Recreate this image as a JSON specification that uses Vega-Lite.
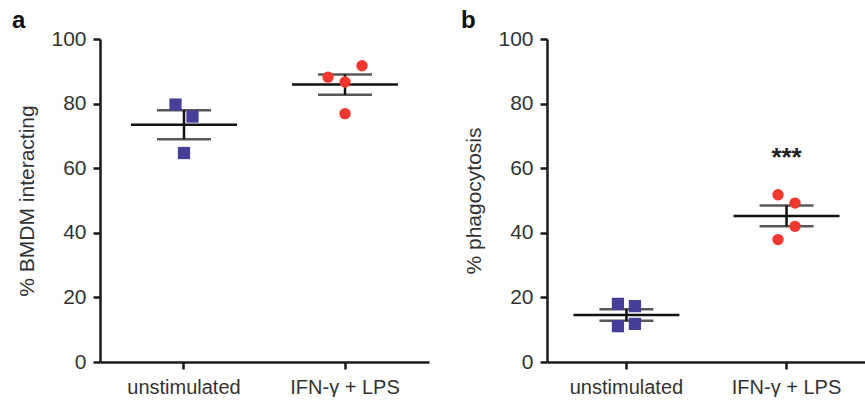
{
  "$schema": "https://vega.github.io/schema/vega-lite/v6.json",
  "background": "white",
  "padding": {"left": 12, "top": 9, "right": 0, "bottom": 0},
  "bounds": "flush",
  "spacing": 118,
  "config": {
    "view": {"stroke": null},
    "font": "Liberation Sans",
    "axis": {
      "grid": false,
      "domainColor": "#1a1a1a",
      "domainWidth": 2.5,
      "tickColor": "#1a1a1a",
      "tickWidth": 2.5,
      "tickSize": 7,
      "labelColor": "#333333",
      "labelFont": "Liberation Sans",
      "titleFont": "Liberation Sans",
      "titleColor": "#333333",
      "titleFontWeight": "normal"
    },
    "title": {"font": "Liberation Sans", "fontWeight": "bold", "fontSize": 24, "color": "#111111"}
  },
  "datasets": {
    "obs": [
      {"panel": "a", "group": "unstimulated", "col": "L1", "value": 79.7},
      {"panel": "a", "group": "unstimulated", "col": "R1", "value": 76.0},
      {"panel": "a", "group": "unstimulated", "col": "C", "value": 64.7},
      {"panel": "a", "group": "IFN-γ + LPS", "col": "L2", "value": 88.2},
      {"panel": "a", "group": "IFN-γ + LPS", "col": "C", "value": 86.7},
      {"panel": "a", "group": "IFN-γ + LPS", "col": "R2", "value": 91.7},
      {"panel": "a", "group": "IFN-γ + LPS", "col": "C", "value": 76.9},
      {"panel": "b", "group": "unstimulated", "col": "L1", "value": 18.0},
      {"panel": "b", "group": "unstimulated", "col": "R1", "value": 17.3},
      {"panel": "b", "group": "unstimulated", "col": "L1", "value": 11.1},
      {"panel": "b", "group": "unstimulated", "col": "R1", "value": 11.8},
      {"panel": "b", "group": "IFN-γ + LPS", "col": "L1", "value": 51.8},
      {"panel": "b", "group": "IFN-γ + LPS", "col": "R1", "value": 49.2},
      {"panel": "b", "group": "IFN-γ + LPS", "col": "R1", "value": 42.0},
      {"panel": "b", "group": "IFN-γ + LPS", "col": "L1", "value": 37.9}
    ],
    "sig": [
      {"panel": "b", "group": "IFN-γ + LPS", "value": 63.2, "label": "***"}
    ]
  },
  "hconcat": [
    {
      "width": 329,
      "height": 323,
      "title": {"text": "a", "anchor": "start", "frame": "group", "dx": -88, "offset": -2, "dy": 3},
      "data": {"name": "obs"},
      "transform": [{"filter": "datum.panel === 'a'"}],
      "encoding": {
        "x": {
          "field": "group", "type": "nominal", "sort": ["unstimulated", "IFN-γ + LPS"],
          "scale": {"type": "band", "paddingInner": 0.789, "paddingOuter": 0.416},
          "axis": {"title": null, "labelAngle": 0, "labelFontSize": 20, "labelPadding": 8}
        }
      },
      "layer": [
        {
          "mark": {"type": "errorbar", "extent": "stderr", "color": "#111111",
                   "rule": {"strokeWidth": 2.5}, "ticks": {"size": 54, "thickness": 2.5, "color": "#111111"}},
          "encoding": {
            "y": {"field": "value", "type": "quantitative",
                  "scale": {"domain": [0, 100]},
                  "axis": {"title": "% BMDM interacting", "values": [0, 20, 40, 60, 80, 100],
                           "labelFontSize": 21, "titleFontSize": 21, "labelPadding": 7, "titlePadding": 13}}
          }
        },
        {
          "mark": {"type": "tick", "size": 106, "thickness": 2.5, "color": "#111111"},
          "encoding": {"y": {"aggregate": "mean", "field": "value", "type": "quantitative"}}
        },
        {
          "mark": {"type": "point", "filled": true, "opacity": 1},
          "encoding": {
            "y": {"field": "value", "type": "quantitative"},
            "xOffset": {"field": "col", "type": "nominal",
                        "scale": {"type": "point", "domain": ["L2", "L1", "C", "R1", "R2"], "padding": 0}},
            "shape": {"field": "group", "type": "nominal",
                      "scale": {"domain": ["unstimulated", "IFN-γ + LPS"], "range": ["square", "circle"]}, "legend": null},
            "color": {"field": "group", "type": "nominal",
                      "scale": {"domain": ["unstimulated", "IFN-γ + LPS"], "range": ["#463f99", "#f0382f"]}, "legend": null},
            "size": {"field": "group", "type": "nominal",
                     "scale": {"domain": ["unstimulated", "IFN-γ + LPS"], "range": [150, 130]}, "legend": null}
          }
        }
      ]
    },
    {
      "width": 319,
      "height": 323,
      "title": {"text": "b", "anchor": "start", "frame": "group", "dx": -86, "offset": -2, "dy": 3},
      "data": {"name": "obs"},
      "transform": [{"filter": "datum.panel === 'b'"}],
      "encoding": {
        "x": {
          "field": "group", "type": "nominal", "sort": ["unstimulated", "IFN-γ + LPS"],
          "scale": {"type": "band", "paddingInner": 0.7875, "paddingOuter": 0.39},
          "axis": {"title": null, "labelAngle": 0, "labelFontSize": 20, "labelPadding": 8}
        }
      },
      "layer": [
        {
          "mark": {"type": "errorbar", "extent": "stderr", "color": "#111111",
                   "rule": {"strokeWidth": 2.5}, "ticks": {"size": 54, "thickness": 2.5, "color": "#111111"}},
          "encoding": {
            "y": {"field": "value", "type": "quantitative",
                  "scale": {"domain": [0, 100]},
                  "axis": {"title": "% phagocytosis", "values": [0, 20, 40, 60, 80, 100],
                           "labelFontSize": 21, "titleFontSize": 21, "labelPadding": 7, "titlePadding": 13}}
          }
        },
        {
          "mark": {"type": "tick", "size": 106, "thickness": 2.5, "color": "#111111"},
          "encoding": {"y": {"aggregate": "mean", "field": "value", "type": "quantitative"}}
        },
        {
          "mark": {"type": "point", "filled": true, "opacity": 1},
          "encoding": {
            "y": {"field": "value", "type": "quantitative"},
            "xOffset": {"field": "col", "type": "nominal",
                        "scale": {"type": "point", "domain": ["L2", "L1", "C", "R1", "R2"], "padding": 0}},
            "shape": {"field": "group", "type": "nominal",
                      "scale": {"domain": ["unstimulated", "IFN-γ + LPS"], "range": ["square", "circle"]}, "legend": null},
            "color": {"field": "group", "type": "nominal",
                      "scale": {"domain": ["unstimulated", "IFN-γ + LPS"], "range": ["#463f99", "#f0382f"]}, "legend": null},
            "size": {"field": "group", "type": "nominal",
                     "scale": {"domain": ["unstimulated", "IFN-γ + LPS"], "range": [150, 130]}, "legend": null}
          }
        },
        {
          "data": {"name": "sig"},
          "mark": {"type": "text", "fontSize": 26, "fontWeight": "bold", "color": "#222222", "baseline": "middle"},
          "encoding": {
            "y": {"field": "value", "type": "quantitative"},
            "text": {"field": "label"}
          }
        }
      ]
    }
  ]
}
